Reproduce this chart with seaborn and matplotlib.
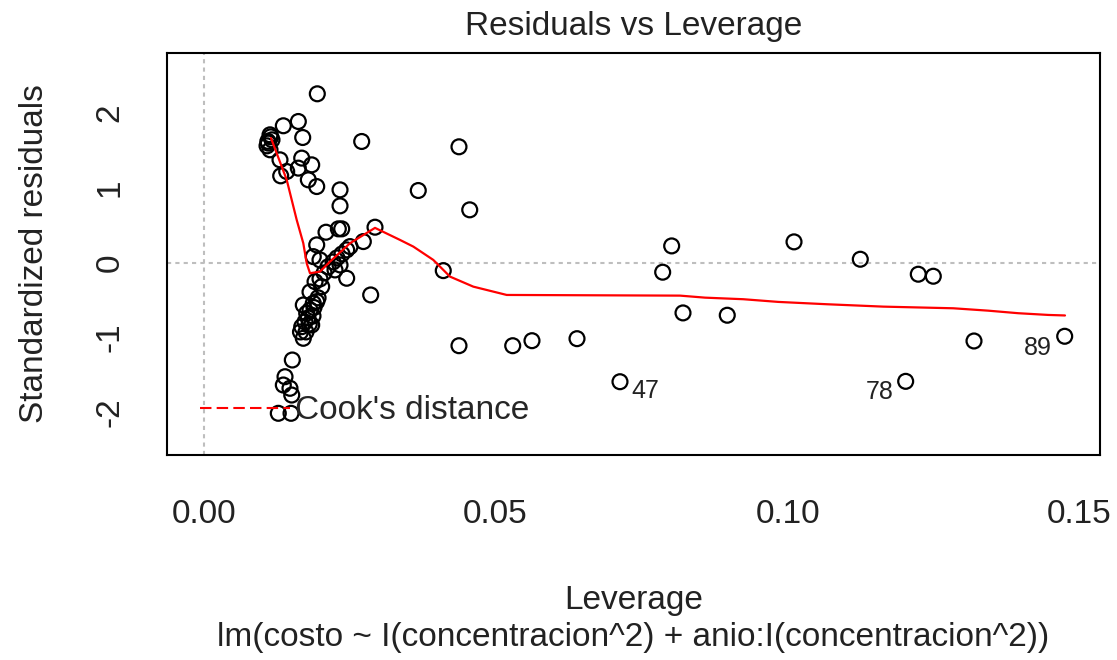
import numpy as np
import pandas as pd
import seaborn as sns
import matplotlib.pyplot as plt
from matplotlib.lines import Line2D

# leverage / standardized residuals
leverage = [0.01947, 0.01622, 0.01365, 0.01697, 0.02707, 0.04373, 0.01137, 0.01108,
            0.01137, 0.01171, 0.01086, 0.01308, 0.01680, 0.01851, 0.01622, 0.01423,
            0.01320, 0.01793, 0.01937, 0.02336, 0.02336, 0.03676, 0.04557, 0.02096,
            0.02307, 0.02365, 0.02935, 0.02735, 0.01937, 0.02507, 0.01878, 0.01993,
            0.04104, 0.02450, 0.02370, 0.02284, 0.02216, 0.02130, 0.02062, 0.01993,
            0.01908, 0.02022, 0.02450, 0.02861, 0.02250, 0.02336, 0.01822, 0.01878,
            0.01765, 0.01937, 0.01707, 0.01822, 0.01788, 0.01736, 0.01851, 0.01680,
            0.01707, 0.01753, 0.01873, 0.01659, 0.01519, 0.01394, 0.01365, 0.01479,
            0.01509, 0.01279, 0.01497, 0.04373, 0.05293, 0.05623, 0.06394, 0.07130,
            0.07861, 0.08015, 0.08209, 0.08967, 0.10110, 0.11245, 0.12238, 0.12495,
            0.13192, 0.12022, 0.14745, 0.01960, 0.01810, 0.01890, 0.01100, 0.01150]
std_resid = [2.255, 1.885, 1.828, 1.671, 1.618, 1.547, 1.707, 1.596,
             1.507, 1.640, 1.560, 1.373, 1.396, 1.306, 1.262, 1.217,
             1.159, 1.106, 1.016, 0.972, 0.758, 0.963, 0.705, 0.406,
             0.451, 0.451, 0.473, 0.281, 0.237, 0.214, 0.080, 0.036,
             -0.107, 0.170, 0.116, 0.063, 0.009, -0.057, -0.138, -0.218,
             -0.254, -0.321, -0.209, -0.432, -0.098, -0.031, -0.392, -0.543,
             -0.676, -0.521, -0.566, -0.632, -0.739, -0.793, -0.833, -0.856,
             -1.011, -0.926, -0.713, -0.926, -1.301, -1.524, -1.635, -1.679,
             -1.769, -2.013, -2.013, -1.110, -1.110, -1.043, -1.016, -1.591,
             -0.128, 0.223, -0.672, -0.703, 0.277, 0.045, -0.155, -0.182,
             -1.047, -1.586, -0.984, -0.470, -0.820, -0.600, 1.620, 1.680]

# smoother (red line)
smooth_x = [0.01154, 0.01423, 0.01594, 0.01707, 0.01765, 0.01822, 0.01993, 0.02164,
            0.02507, 0.02935, 0.03363, 0.03591, 0.03933, 0.04219, 0.04618, 0.05190,
            0.08158, 0.08586, 0.09241, 0.09841, 0.10670, 0.11639, 0.12837, 0.13437,
            0.13950, 0.14464, 0.14750]
smooth_y = [1.663, 1.106, 0.571, 0.259, -0.008, -0.142, -0.120, 0.013,
            0.259, 0.464, 0.303, 0.214, 0.036, -0.187, -0.321, -0.432,
            -0.441, -0.468, -0.489, -0.525, -0.556, -0.588, -0.610, -0.642,
            -0.676, -0.699, -0.706]

# labelled observations
id_labels = ["47", "78", "89"]
id_x = [0.07130, 0.12022, 0.14745]
id_y = [-1.591, -1.586, -0.984]

x_ticks = [0.0, 0.05, 0.10, 0.15]
x_ticklabels = ["0.00", "0.05", "0.10", "0.15"]
y_ticks = [-2, -1, 0, 1, 2]

pts = pd.DataFrame({"Leverage": leverage, "resid": std_resid})
smooth = pd.DataFrame({"x": smooth_x, "y": smooth_y})

sns.set_style("white")
plt.rcParams['font.family'] = ['Liberation Sans', 'DejaVu Sans']
plt.rcParams['axes.unicode_minus'] = False
fs = 24

fig = plt.figure(figsize=(11.17, 6.6), dpi=100)
ax = fig.add_axes([0.1495, 0.3106, 0.8353, 0.6091])

ax.axvline(0, color="#BEBEBE", ls=(0, (2, 2)), lw=1.5, zorder=1)
ax.axhline(0, color="#BEBEBE", ls=(0, (2, 2)), lw=1.5, zorder=1)

sns.scatterplot(data=pts, x="Leverage", y="resid", ax=ax, s=115, marker="o",
                facecolor="none", edgecolor="black", linewidth=1.6, zorder=3)
sns.lineplot(data=smooth, x="x", y="y", ax=ax, sort=False, estimator=None,
             color="red", lw=1.6, zorder=4)

offsets = [(8, -6.5, "left"), (-9, -8, "right"), (-9, -8.5, "right")]
for lab, xx, yy, (dx, dy, ha) in zip(id_labels, id_x, id_y, offsets):
    ax.annotate(lab, (xx, yy), xytext=(dx, dy), textcoords="offset points",
                ha=ha, va="center", fontsize=18, color="#222222")

handle = Line2D([], [], color="red", ls=(0, (5.5, 2.5)), lw=1.5)
ax.legend([handle], ["Cook's distance"], loc="center left",
          bbox_to_anchor=(0.0354, 0.1095), frameon=False, fontsize=fs,
          handlelength=2.7, handletextpad=0.15, borderpad=0, borderaxespad=0)

ax.set_xlim(-0.00627, 0.1535)
ax.set_ylim(-2.57, 2.80)
ax.set_xticks(x_ticks)
ax.set_xticklabels(x_ticklabels)
ax.set_yticks(y_ticks)
ax.tick_params(axis="both", direction="out", length=14, width=1.5,
               labelsize=fs, color="black", labelcolor="#222222")
ax.tick_params(axis="x", pad=18)
ax.tick_params(axis="y", pad=16, labelrotation=90)
for lab in ax.get_yticklabels():
    lab.set_va("center")
for sp in ax.spines.values():
    sp.set_color("black")
    sp.set_linewidth(1.5)

ax.set_xlabel("Leverage", fontsize=fs, color="#222222")
ax.set_ylabel("Standardized residuals", fontsize=fs, color="#222222")
ax.xaxis.set_label_coords(0.5, -0.361)
ax.xaxis.label.set_va("center")
ax.yaxis.set_label_coords(-0.142, 0.5)
ax.yaxis.label.set_va("center")
ax.set_title("Residuals vs Leverage", fontsize=fs, color="#222222", y=1.045, va="center")
ax.text(0.5, -0.455, "lm(costo ~ I(concentracion^2) + anio:I(concentracion^2))",
        transform=ax.transAxes, ha="center", va="center", fontsize=fs, color="#222222")

fig.savefig("out.png", dpi=100)
